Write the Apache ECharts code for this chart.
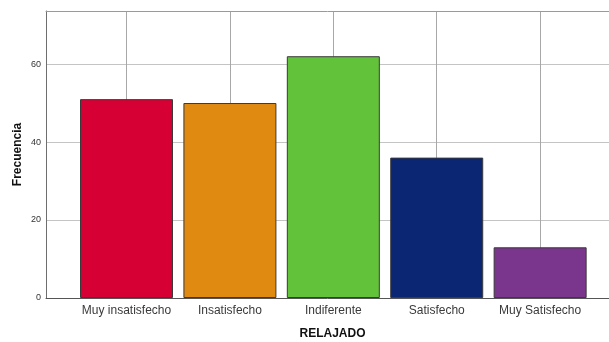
<!DOCTYPE html>
<html>
<head>
<meta charset="utf-8">
<script src="https://cdn.jsdelivr.net/npm/echarts@6/dist/echarts.min.js"></script>
<style>
  html, body { margin: 0; padding: 0; background: #fff; }
  #chart { width: 609px; height: 342px; }
</style>
</head>
<body>
<div id="chart"></div>
<script>
// Frequency of answers for "RELAJADO"
const categories = ['Muy insatisfecho', 'Insatisfecho', 'Indiferente', 'Satisfecho', 'Muy Satisfecho'];
const frecuencias = [51, 50, 62, 36, 13];
const barColors = ['#d70034', '#e08a12', '#62c33b', '#0b2672', '#7a358c'];
const yTicks = [0, 20, 40, 60];

const chart = echarts.init(document.getElementById('chart'));

// Bars sit on a numeric x axis so the plot frame can extend past the outer bars
const barData = frecuencias.map((v, i) => ({
  value: [i, v],
  itemStyle: { color: barColors[i] }
}));

const X_MIN = -0.7785;
const X_MAX = 4.666;
const font = 'Liberation Sans, Arial, sans-serif';

chart.setOption({
  animation: false,
  grid: {
    left: 46, top: 11, right: 0, bottom: 44,
    containLabel: false,
    outerBoundsMode: 'none'
  },
  xAxis: [{
    type: 'value',
    min: X_MIN,
    max: X_MAX,
    minInterval: 1,
    maxInterval: 1,
    name: 'RELAJADO',
    nameLocation: 'middle',
    nameGap: 30,
    nameTextStyle: {
      fontFamily: font, fontSize: 12, fontWeight: 'bold', color: '#111',
      padding: [0, 0, 0, 10]
    },
    axisLine: { show: true, onZero: false, lineStyle: { color: '#555', width: 1 } },
    axisTick: { show: false },
    axisLabel: {
      showMinLabel: false, showMaxLabel: false,
      margin: 7,
      fontFamily: font, fontSize: 12, color: '#3a3a3a',
      formatter: v => (Number.isInteger(v) && categories[v] !== undefined) ? categories[v] : ''
    },
    splitLine: {
      show: true, showMinLine: false, showMaxLine: false,
      lineStyle: { color: '#a8a8a8', width: 1 }
    }
  }, {
    // top frame line of the plot area
    type: 'value',
    position: 'top',
    min: X_MIN,
    max: X_MAX,
    axisLine: { show: true, onZero: false, lineStyle: { color: '#9a9a9a', width: 1 } },
    axisTick: { show: false },
    axisLabel: { show: false },
    splitLine: { show: false }
  }],
  yAxis: {
    type: 'value',
    min: 0,
    max: 73.6,
    interval: 20,
    name: 'Frecuencia',
    nameLocation: 'middle',
    nameGap: 22,
    nameMoveOverlap: false,
    nameTextStyle: { fontFamily: font, fontSize: 12, fontWeight: 'bold', color: '#111' },
    axisLine: { show: true, onZero: false, lineStyle: { color: '#6e6e6e', width: 1 } },
    axisTick: { show: false },
    axisLabel: {
      showMaxLabel: false,
      margin: 5,
      fontFamily: font, fontSize: 9, color: '#333',
      formatter: v => yTicks.includes(v) ? String(v) : ''
    },
    splitLine: {
      show: true, showMaxLine: false,
      lineStyle: { color: '#c4c4c4', width: 1 }
    }
  },
  series: [{
    type: 'bar',
    xAxisIndex: 0,
    data: barData,
    barWidth: 93,
    itemStyle: { borderColor: '#3a3a3a', borderWidth: 1 }
  }]
});
</script>
</body>
</html>
